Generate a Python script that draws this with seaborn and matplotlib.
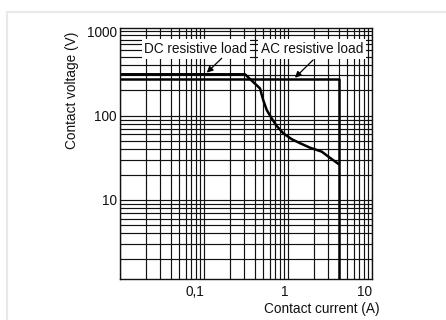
import numpy as np
import pandas as pd
import matplotlib
matplotlib.use("Agg")
import matplotlib.pyplot as plt
import seaborn as sns
from matplotlib.ticker import LogLocator, FixedLocator, FixedFormatter, NullFormatter
from matplotlib.lines import Line2D

# ---- data ----
dc_current = [0.01, 0.305, 0.46, 0.503, 0.553, 0.634, 0.727, 0.871, 1.10, 1.38, 1.81, 2.5, 2.99, 4.0]
dc_voltage = [310, 310, 211, 153, 117, 93, 75.5, 61.8, 52.5, 47.1, 41.7, 37.4, 32.7, 26.5]
ac_current = [0.01, 4.0, 4.0]
ac_voltage = [270, 270, 1.0]

x_ticks = [0.01, 0.1, 1, 10]
x_tick_labels = ["", "0,1", "1", "10"]
y_ticks = [1, 10, 100, 1000]
y_tick_labels = ["", "10", "100", "1000"]

dc_label = "DC resistive load"
ac_label = "AC resistive load"

sns.set_theme(style="white")
plt.rcParams["font.family"] = ["Liberation Sans", "DejaVu Sans"]

FS = 9.8
TXT = "#111111"

fig = plt.figure(figsize=(4.46, 3.2), dpi=100)
fig.patch.set_facecolor("white")

# light panel frame
frame_col = "#ebe8e5"
fig.add_artist(Line2D([6.7 / 446, 1.0], [1 - 11.7 / 320] * 2, transform=fig.transFigure, color=frame_col, lw=1.6))
fig.add_artist(Line2D([6.7 / 446] * 2, [0.0, 1 - 11.7 / 320], transform=fig.transFigure, color=frame_col, lw=1.6))

ax = fig.add_axes([120.3 / 446, 41 / 320, 252 / 446, 250.7 / 320])
ax.set_xscale("log")
ax.set_yscale("log")

dc = pd.DataFrame({"current": dc_current, "voltage": dc_voltage})
ac = pd.DataFrame({"current": ac_current, "voltage": ac_voltage})
sns.lineplot(data=dc, x="current", y="voltage", ax=ax, color="black", lw=1.8, sort=False, estimator=None)
sns.lineplot(data=ac, x="current", y="voltage", ax=ax, color="black", lw=1.8, sort=False, estimator=None)

ax.set_xlim(0.01, 10)
ax.set_ylim(1.15, 1090)

ax.xaxis.set_major_locator(FixedLocator(x_ticks))
ax.xaxis.set_major_formatter(FixedFormatter(x_tick_labels))
ax.yaxis.set_major_locator(FixedLocator(y_ticks))
ax.yaxis.set_major_formatter(FixedFormatter(y_tick_labels))
ax.xaxis.set_minor_locator(LogLocator(base=10, subs=np.arange(2, 10)))
ax.yaxis.set_minor_locator(LogLocator(base=10, subs=np.arange(2, 10)))
ax.xaxis.set_minor_formatter(NullFormatter())
ax.yaxis.set_minor_formatter(NullFormatter())

ax.grid(True, which="both", color="#111111", lw=0.85)
ax.set_axisbelow(True)
ax.tick_params(which="both", length=0, labelsize=FS, colors=TXT)
ax.tick_params(axis="x", pad=4)
ax.tick_params(axis="y", pad=2.5)
for lab in ax.get_xticklabels():
    lab.set_horizontalalignment("right")
for s in ax.spines.values():
    s.set_color("#111111")
    s.set_linewidth(1.0)
ax.set_xlabel("")
ax.set_ylabel("")

box = dict(facecolor="white", edgecolor="none", pad=2.0)
ax.text(0.30, 0.918, dc_label, transform=ax.transAxes, ha="center", va="center",
        fontsize=FS, color=TXT, bbox=box)
ax.text(0.762, 0.918, ac_label, transform=ax.transAxes, ha="center", va="center",
        fontsize=FS, color=TXT, bbox=box)

arrow = dict(arrowstyle="-|>", color="black", lw=0.9, mutation_scale=9, shrinkA=0, shrinkB=0)
ax.annotate("", xy=(0.107, 324), xytext=(0.161, 480), arrowprops=arrow)
ax.annotate("", xy=(1.20, 282), xytext=(1.97, 458), arrowprops=arrow)

fig.text(71.7 / 446, 1 - 31.7 / 320, "Contact voltage (V)", rotation=90, ha="center", va="top",
         fontsize=FS, color=TXT)
fig.text(380 / 446, 1 - 309.3 / 320, "Contact current (A)", ha="right", va="center",
         fontsize=FS, color=TXT)

fig.savefig("out.png", dpi=100, facecolor="white")
